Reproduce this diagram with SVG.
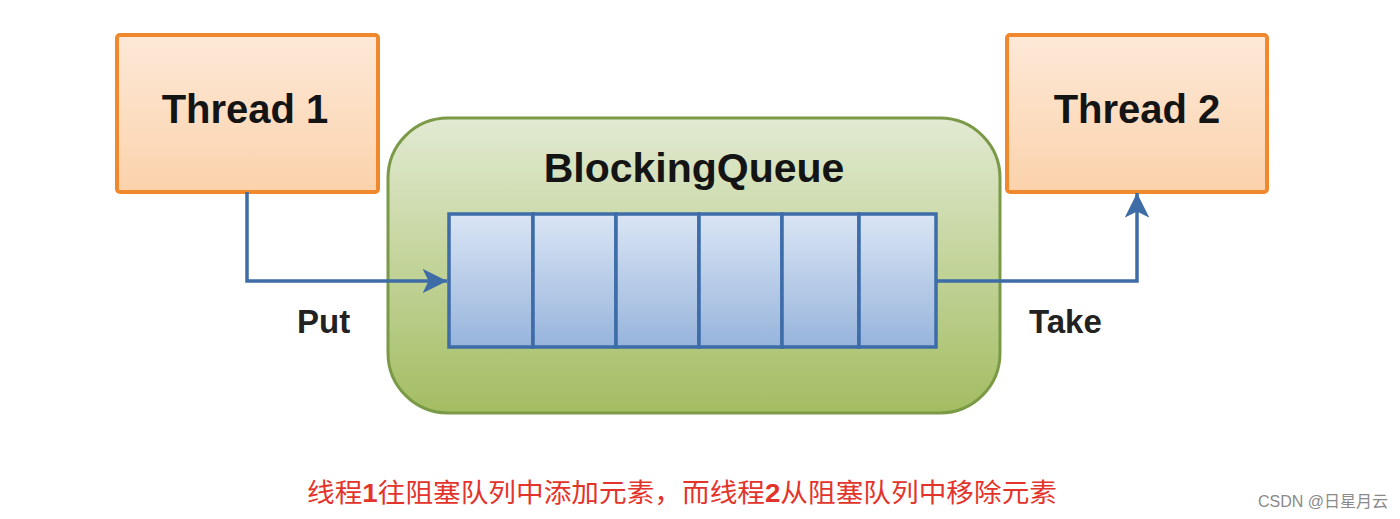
<svg xmlns="http://www.w3.org/2000/svg" width="1400" height="519" viewBox="0 0 1400 519">
<defs>
<linearGradient id="gOrange" x1="0" y1="0" x2="0" y2="1"><stop offset="0" stop-color="#fde9d8"/><stop offset="1" stop-color="#fbd2ab"/></linearGradient>
<linearGradient id="gGreen" x1="0" y1="0" x2="0" y2="1"><stop offset="0" stop-color="#e2ead2"/><stop offset="1" stop-color="#a3bd62"/></linearGradient>
<linearGradient id="gBlue" x1="0" y1="0" x2="0" y2="1"><stop offset="0" stop-color="#dae5f4"/><stop offset="1" stop-color="#97b4dc"/></linearGradient>
<marker id="arr" viewBox="0 0 10 10" refX="10" refY="5" markerWidth="7" markerHeight="7" markerUnits="strokeWidth" orient="auto"><path d="M0,0 L10,5 L0,10 L2.5,5 z" fill="#3e6ca6"/></marker>
</defs>
<style>
.thread{fill:url(#gOrange);stroke:#f0882e;stroke-width:4}
.big{font-family:"Liberation Sans",Arial,sans-serif;font-weight:bold;fill:#141414}
.cell{fill:url(#gBlue);stroke:#3d6ca8;stroke-width:3.5}
.conn{fill:none;stroke:#3e6ca6;stroke-width:3.5}
.lbl{font-family:"Liberation Sans",Arial,sans-serif;font-weight:bold;font-size:33px;fill:#222}
</style>
<rect width="1400" height="519" fill="#ffffff"/>
<g id="thread1">
<rect class="thread" x="117" y="35" width="261" height="157" rx="3"/>
<text class="big" x="245" y="123" font-size="40" text-anchor="middle">Thread 1</text>
</g>
<g id="thread2">
<rect class="thread" x="1007" y="35" width="260" height="157" rx="3"/>
<text class="big" x="1137" y="123" font-size="40" text-anchor="middle">Thread 2</text>
</g>
<g id="blockingqueue">
<rect x="388" y="118" width="612" height="295" rx="60" fill="url(#gGreen)" stroke="#7b9a48" stroke-width="3"/>
<text class="big" x="694" y="182" font-size="41" text-anchor="middle">BlockingQueue</text>
<g id="queue">
<rect class="cell" x="449" y="214" width="84" height="133"/>
<rect class="cell" x="533" y="214" width="83" height="133"/>
<rect class="cell" x="616" y="214" width="83" height="133"/>
<rect class="cell" x="699" y="214" width="83" height="133"/>
<rect class="cell" x="782" y="214" width="77" height="133"/>
<rect class="cell" x="859" y="214" width="77" height="133"/>
</g>
</g>
<g id="connectors">
<path class="conn" d="M247,192 V281 H447" marker-end="url(#arr)"/>
<path class="conn" d="M936,281 H1137 V193" marker-end="url(#arr)"/>
<text class="lbl" x="297" y="333">Put</text>
<text class="lbl" x="1029" y="333">Take</text>
</g>
<g id="caption">
<text x="307" y="502" font-family="'Liberation Sans','Noto Sans CJK SC',sans-serif" font-size="26" fill="#e3342c" textLength="750" lengthAdjust="spacingAndGlyphs">线程<tspan font-weight="bold">1</tspan>往阻塞队列中添加元素，而线程<tspan font-weight="bold">2</tspan>从阻塞队列中移除元素</text>
<text x="1258" y="507" font-family="'Liberation Sans','Noto Sans CJK SC',sans-serif" font-size="16" fill="#8a8a8a">CSDN @日星月云</text>
</g>
</svg>
